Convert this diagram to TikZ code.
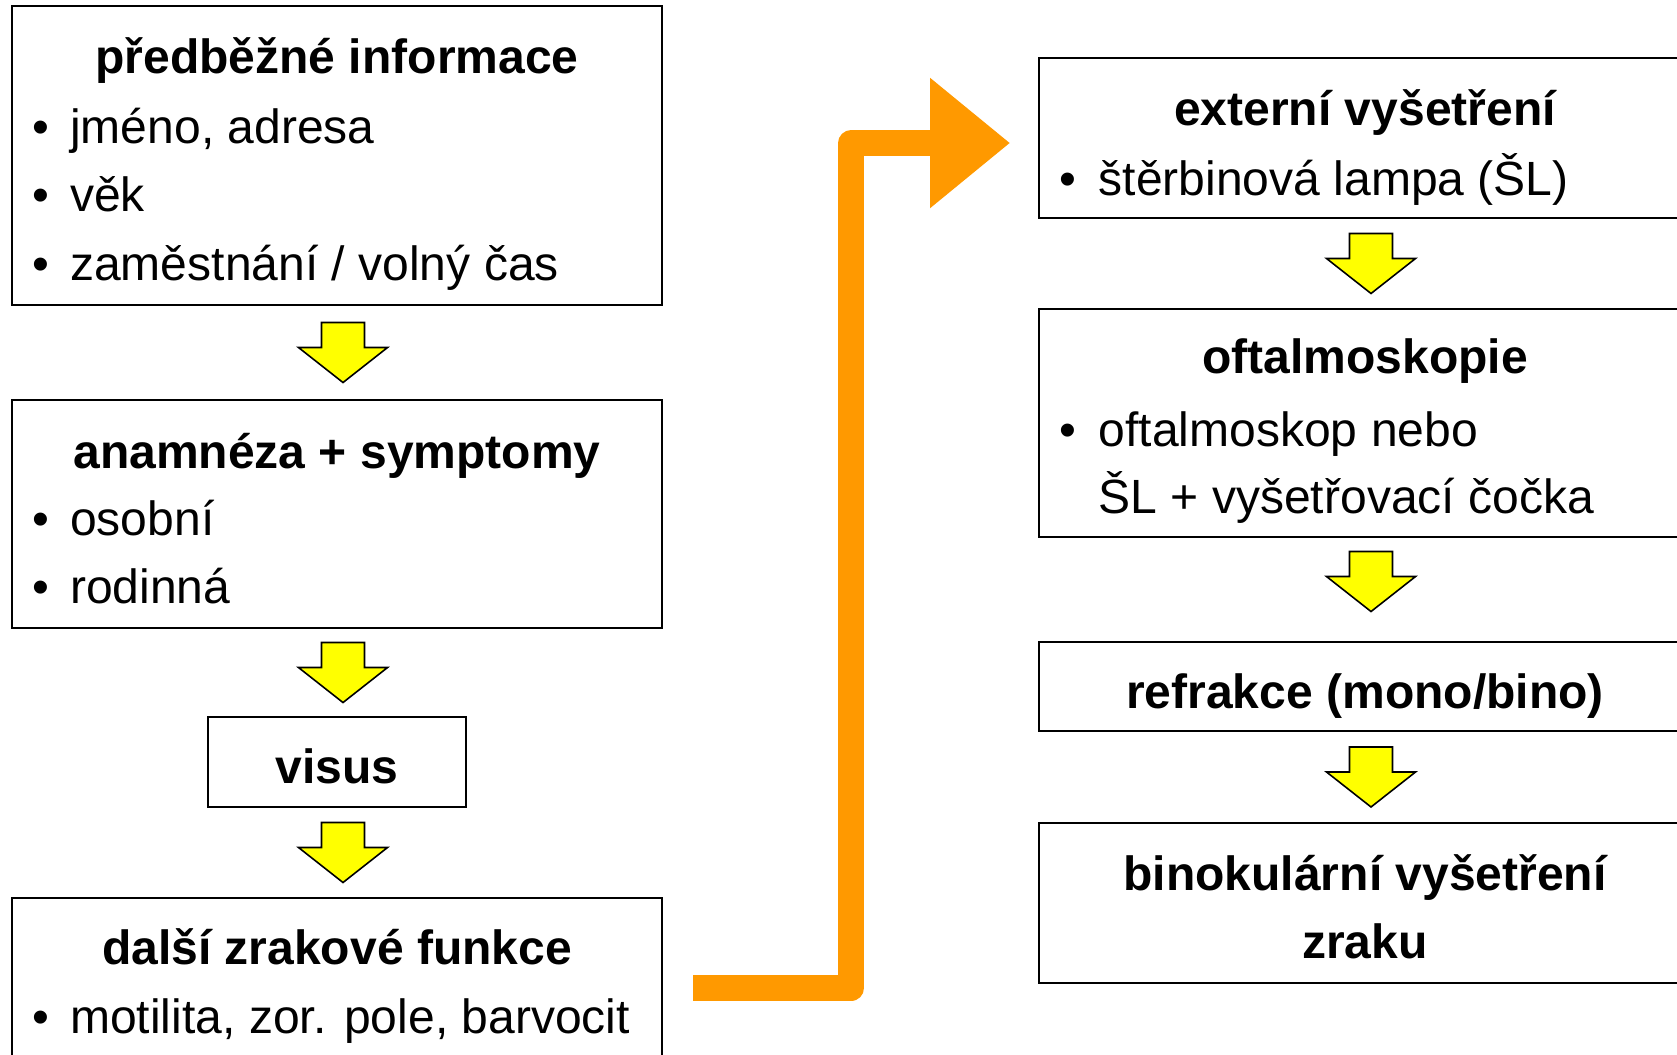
\documentclass[tikz,border=0pt]{standalone}
\usepackage{fontspec}
\setmainfont{Liberation Sans}
\usetikzlibrary{calc}
\definecolor{arrowyellow}{HTML}{FFFF00}
\definecolor{arroworange}{HTML}{FF9900}
\tikzset{
  box/.style={draw=black, line width=0.6pt, fill=white, inner sep=0pt, rectangle},
  txt/.style={inner sep=0pt, font=\fontsize{13.66pt}{16pt}\selectfont},
  ttl/.style={txt, anchor=base, font=\fontsize{13.66pt}{16pt}\selectfont\bfseries},
  itm/.style={txt, anchor=base west},
  bul/.style={txt, anchor=base},
  yarrow/.pic={\draw[fill=arrowyellow, draw=black, line width=0.45pt, line join=miter]
     (-21.5,-30) -- (21.5,-30) -- (21.5,-5) -- (44.5,-5) -- (0,30) -- (-44.5,-5) -- (-21.5,-5) -- cycle;},
  orangeline/.style={draw=arroworange, line width=0.257cm, line join=round, line cap=butt}
}
\begin{document}
\begin{tikzpicture}[x=0.01cm, y=-0.01cm]
\useasboundingbox (0,0) rectangle (1677,1054);
\clip (0,0) rectangle (1677,1054);
% left column boxes
\node[box, minimum width=6.5cm, minimum height=2.99cm] (b1) at (337,155.5) {};
\node[box, minimum width=6.5cm, minimum height=2.28cm] (b2) at (337,514) {};
\node[box, minimum width=2.58cm, minimum height=0.90cm] (b3) at (337,762) {};
\node[box, minimum width=6.5cm, minimum height=2.02cm] (b4) at (337,999) {};
% right column boxes
\node[box, minimum width=6.52cm, minimum height=1.60cm] (b5) at (1365,138) {};
\node[box, minimum width=6.52cm, minimum height=2.28cm] (b6) at (1365,423) {};
\node[box, minimum width=6.52cm, minimum height=0.89cm] (b7) at (1365,686.5) {};
\node[box, minimum width=6.52cm, minimum height=1.60cm] (b8) at (1365,903) {};
% texts left
\node[ttl] (t1) at (337,73) {předběžné informace};
\node[bul] (p1a) at (40.6,143) {•}; \node[itm] (i1a) at (69.5,143) {jméno, adresa};
\node[bul] (p1b) at (40.6,211.5) {•}; \node[itm] (i1b) at (69.5,211.5) {věk};
\node[bul] (p1c) at (40.6,280) {•}; \node[itm] (i1c) at (69.5,280) {zaměstnání / volný čas};
\node[ttl] (t2) at (337,468) {anamnéza + symptomy};
\node[bul] (p2a) at (40.6,535) {•}; \node[itm] (i2a) at (69.5,535) {osobní};
\node[bul] (p2b) at (40.6,603) {•}; \node[itm] (i2b) at (69.5,603) {rodinná};
\node[ttl] (t3) at (337,783) {visus};
\node[ttl] (t4) at (337,964) {další zrakové funkce};
\node[bul] (p4a) at (40.6,1033) {•}; \node[itm] (i4a) at (69.5,1033) {motilita, zor. pole, barvocit};
% texts right
\node[ttl] (t5) at (1365,125) {externí vyšetření};
\node[bul] (p5a) at (1068,195) {•}; \node[itm] (i5a) at (1098,195) {štěrbinová lampa (ŠL)};
\node[ttl] (t6) at (1365,373) {oftalmoskopie};
\node[bul] (p6a) at (1068,446) {•}; \node[itm] (i6a) at (1098,446) {oftalmoskop nebo};
\node[itm] (i6b) at (1098,513) {ŠL + vyšetřovací čočka};
\node[ttl] (t7) at (1365,708) {refrakce (mono/bino)};
\node[ttl] (t8) at (1365,890) {binokulární vyšetření};
\node[ttl] (t8b) at (1365,958) {zraku};
% yellow arrows between boxes
\pic at ([xshift=0.06cm]$(b1.south)!0.5!(b2.north)$) {yarrow};
\pic at ([xshift=0.06cm]$(b2.south)!0.5!(b3.north)$) {yarrow};
\pic at ([xshift=0.06cm]$(b3.south)!0.5!(b4.north)$) {yarrow};
\pic at ([xshift=0.06cm]$(b5.south)!0.5!(b6.north)$) {yarrow};
\pic at ([xshift=0.06cm,yshift=0.08cm]$(b6.south)!0.5!(b7.north)$) {yarrow};
\pic at ([xshift=0.06cm]$(b7.south)!0.5!(b8.north)$) {yarrow};
% orange arrow from left column to right column
\coordinate (ostart) at (693,988);
\coordinate (oend) at (1009.6,143);
\coordinate (obend) at ($(ostart)!0.5!(oend)$);
\draw[orangeline] (ostart) -| (obend) |- ($(oend)+(-80,0)$);
\fill[arroworange] ($(oend)+(-79.6,-65.25)$) -- (oend) -- ($(oend)+(-79.6,65.25)$) -- cycle;
\end{tikzpicture}
\end{document}
